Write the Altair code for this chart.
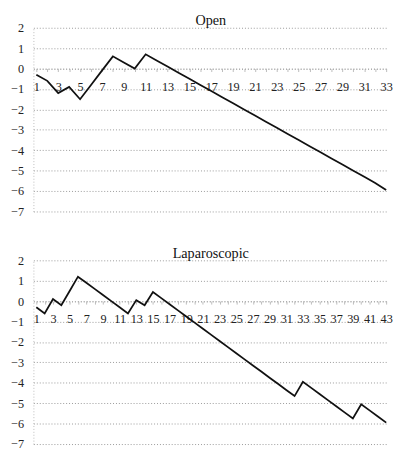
import altair as alt
import pandas as pd

# Case numbers and CUSUM values
open_case = list(range(1, 34))
open_cusum = [-0.3, -0.6, -1.2, -0.9, -1.5, -0.8, -0.1, 0.6, 0.3, 0.0, 0.7,
              0.4, 0.1, -0.2, -0.5, -0.8, -1.1, -1.4, -1.7, -2.0, -2.3, -2.6,
              -2.9, -3.2, -3.5, -3.8, -4.1, -4.4, -4.7, -5.0, -5.3, -5.6, -5.95]

lap_case = list(range(1, 44))
lap_cusum = [-0.3, -0.6, 0.1, -0.2, 0.5, 1.2, 0.9, 0.6, 0.3, 0.0, -0.3, -0.6,
             0.05, -0.2, 0.45, 0.15, -0.15, -0.45, -0.75, -1.05, -1.35, -1.65,
             -1.95, -2.25, -2.55, -2.85, -3.15, -3.45, -3.75, -4.05, -4.35,
             -4.65, -3.95, -4.25, -4.55, -4.85, -5.15, -5.45, -5.75, -5.05,
             -5.35, -5.65, -5.95]

y_ticks = [2, 1, 0, -1, -2, -3, -4, -5, -6, -7]

FONT = "Liberation Serif"
W = 363
H = 188


def panel(title, xs, ys, dom):
    df = pd.DataFrame({"case": xs, "cusum": ys})
    zero_off = -(H * 7 / 9)
    return alt.Chart(df).mark_line(color="#111", strokeWidth=1.8).encode(
        x=alt.X("case:Q",
                scale=alt.Scale(domain=dom, nice=False, zero=False),
                axis=alt.Axis(values=xs,
                              labelExpr="datum.value % 2 == 1 ? datum.label : ''",
                              offset=zero_off, title=None, grid=False,
                              domainColor="#aaa", domainDash=[1, 2],
                              tickColor="#bbb", tickSize=3,
                              labelPadding=9, labelFont=FONT, labelFontSize=12.5,
                              labelColor="#222", labelOverlap=False,
                              labelFlush=False)),
        y=alt.Y("cusum:Q",
                scale=alt.Scale(domain=[-7, 2], nice=False, zero=False),
                axis=alt.Axis(values=y_ticks, title=None, grid=True,
                              gridColor="#999", gridDash=[1, 2], ticks=False,
                              domainColor="#bbb", domainDash=[1, 2],
                              labelPadding=10, labelFont=FONT, labelFontSize=12.5,
                              labelColor="#222", format="d")),
    ).properties(
        width=W, height=H,
        title=alt.Title(title, font=FONT, fontSize=14.5, fontWeight="normal",
                        color="#111", offset=-7),
    )


open_chart = panel("Open", open_case, open_cusum, [0.73, 33.18])
lap_chart = panel("Laparoscopic", lap_case, lap_cusum, [0.65, 43.23])

chart = alt.vconcat(open_chart, lap_chart, spacing=28).properties(
    padding={"left": 2, "top": 0, "right": 0, "bottom": 0}
).configure_view(stroke=None)

chart.save("out.html", embed_options={"renderer": "svg", "actions": False})
